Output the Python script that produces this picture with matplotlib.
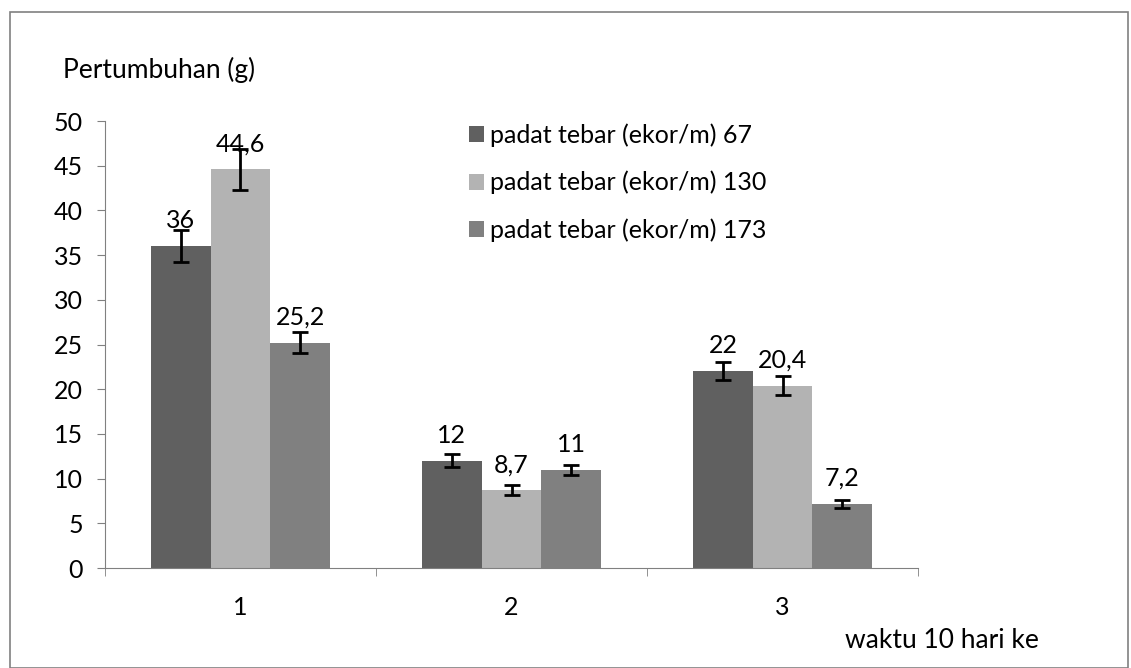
import numpy as np
import matplotlib
matplotlib.use("Agg")
from matplotlib import pyplot as plt
from matplotlib.patches import Rectangle

plt.rcParams['font.family'] = ['Lato', 'DejaVu Sans']

categories = ['1', '2', '3']
series_names = ['padat tebar (ekor/m) 67', 'padat tebar (ekor/m) 130', 'padat tebar (ekor/m) 173']
values = [
    [36, 12, 22],
    [44.6, 8.7, 20.4],
    [25.2, 11, 7.2],
]
errors = [
    [1.8, 0.7, 1.0],
    [2.3, 0.55, 1.05],
    [1.2, 0.55, 0.45],
]
value_labels = [
    ['36', '12', '22'],
    ['44,6', '8,7', '20,4'],
    ['25,2', '11', '7,2'],
]
colors = ['#606060', '#b3b3b3', '#808080']

fig = plt.figure(figsize=(11.31, 6.68), dpi=100)
ax = fig.add_axes([0.0928, 0.1497, 0.719, 0.669])

# outer frame
fig.patches.append(Rectangle((10 / 1131, 0.0), 1118 / 1131, 1 - 12 / 668, transform=fig.transFigure,
                             fill=False, edgecolor='#808080', linewidth=1.2))

x = np.arange(len(categories))
width = 0.22
for i in range(len(series_names)):
    pos = x + (i - 1) * width
    ax.bar(pos, values[i], width, color=colors[i], label=series_names[i], zorder=2)
    ax.errorbar(pos, values[i], yerr=errors[i], fmt='none', ecolor='black',
                elinewidth=2, capsize=5.5, capthick=2, zorder=3)
    for j in range(len(categories)):
        ax.annotate(value_labels[i][j], (pos[j], values[i][j]), xytext=(0, 10),
                    textcoords='offset points', ha='center', va='bottom', fontsize=18)

ax.set_xlim(-0.5, 2.5)
ax.set_ylim(0, 50)
ax.set_yticks(np.arange(0, 51, 5))
ax.set_xticks(x)
ax.set_xticklabels(categories)
ax.set_xticks([-0.5, 0.5, 1.5, 2.5], minor=True)
ax.tick_params(axis='x', which='major', length=0, pad=20, labelsize=18)
ax.tick_params(axis='x', which='minor', length=6, color='#808080')
ax.tick_params(axis='y', length=6, color='#808080', labelsize=18, pad=10)

for side in ['top', 'right']:
    ax.spines[side].set_visible(False)
for side in ['left', 'bottom']:
    ax.spines[side].set_color('#808080')

fig.text(63 / 1131, 1 - 70 / 668, 'Pertumbuhan (g)', fontsize=19, va='center', ha='left')
fig.text(845 / 1131, 1 - 641 / 668, 'waktu 10 hari ke', fontsize=19, va='center', ha='left')

ax.legend(loc='upper left', bbox_to_anchor=(0.42, 1.045), frameon=False, fontsize=18,
          handlelength=0.6, handleheight=0.6, handletextpad=0.25, labelspacing=0.95)

fig.savefig('out.png', dpi=100)
